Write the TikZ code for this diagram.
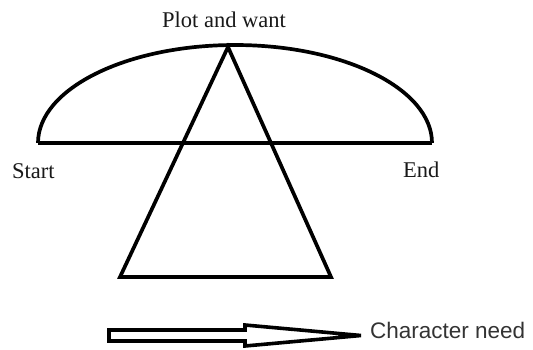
\documentclass[tikz,border=0pt]{standalone}
\usepackage{fontspec}
\setmainfont{Liberation Serif}
\newfontfamily\arialfont{Liberation Sans}
\begin{document}
\begin{tikzpicture}[x=1pt,y=-1pt,
  thick line/.style={line width=3.7pt,line join=miter},
  serif label/.style={font=\fontsize{22.5}{26}\selectfont,inner sep=0pt,anchor=base west,text=black!90},
  sans label/.style={font=\arialfont\fontsize{22.5}{26}\selectfont,inner sep=0pt,anchor=base west,text=black!80}]
\useasboundingbox (0,0) rectangle (533,349);
% key points
\coordinate (L) at (38,143);
\coordinate (R) at (432,143);
\coordinate (apex) at (228,47);
\coordinate (bl) at (120,277);
\coordinate (br) at (331,277);
% arch and base line
\draw[thick line] (L) arc[start angle=180,end angle=360,x radius=197,y radius=98];
\draw[thick line] (L) -- (R);
% triangle
\draw[thick line] (apex) -- (bl) -- (br) -- cycle;
% hollow block arrow
\draw[line width=3.6pt,line join=miter,fill=white]
  (109,330) -- (245,330) -- (245,325) -- (361,335.5) -- (245,346) -- (245,341) -- (109,341) -- cycle;
% labels
\node[serif label] (plot) at (162,27) {Plot and want};
\node[serif label] (start) at (12,178) {Start};
\node[serif label] (end) at (403,177) {End};
\node[sans label] (need) at (370,338) {Character need};
\end{tikzpicture}
\end{document}
